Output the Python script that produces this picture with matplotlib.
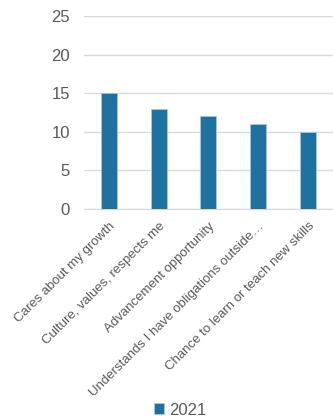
import matplotlib
matplotlib.use("Agg")
import matplotlib.pyplot as plt

categories = [
    "Cares about my growth",
    "Culture, values, respects me",
    "Advancement opportunity",
    "Understands I have obligations outside\u2026",
    "Chance to learn or teach new skills",
]
values_2021 = [15, 13, 12, 11, 10]
series_name = "2021"

plt.rcParams["font.family"] = ["Liberation Sans", "DejaVu Sans"]
text_color = "#595959"
bar_color = "#1F72A0"

fig = plt.figure(figsize=(3.33, 4.18), dpi=100)
ax = fig.add_axes([0.252, 0.5, 0.748, 0.4617])

x = range(len(categories))
ax.bar(x, values_2021, width=0.32, color=bar_color, edgecolor="#a9c8dc",
       linewidth=0.6, label=series_name, zorder=3)

ax.set_xlim(-0.5, len(categories) - 0.5)
ax.set_ylim(0, 25)
ax.set_yticks(range(0, 26, 5))
ax.grid(axis="y", color="#d9d9d9", linewidth=1, zorder=0)
for side in ("top", "right", "left"):
    ax.spines[side].set_visible(False)
ax.spines["bottom"].set_color("#d9d9d9")
ax.tick_params(axis="both", length=0, colors=text_color)
ax.tick_params(axis="y", pad=10, labelsize=12)
ax.tick_params(axis="x", pad=8)
ax.set_xticks(list(x))
ax.set_xticklabels(categories, rotation=45, ha="right", rotation_mode="anchor",
                   fontsize=9.5)

fig.legend(loc="lower center", bbox_to_anchor=(0.54, -0.035), frameon=False,
           handlelength=0.6, handleheight=0.6, handletextpad=0.3,
           fontsize=12, labelcolor=text_color)

fig.savefig("out.png", dpi=100)
